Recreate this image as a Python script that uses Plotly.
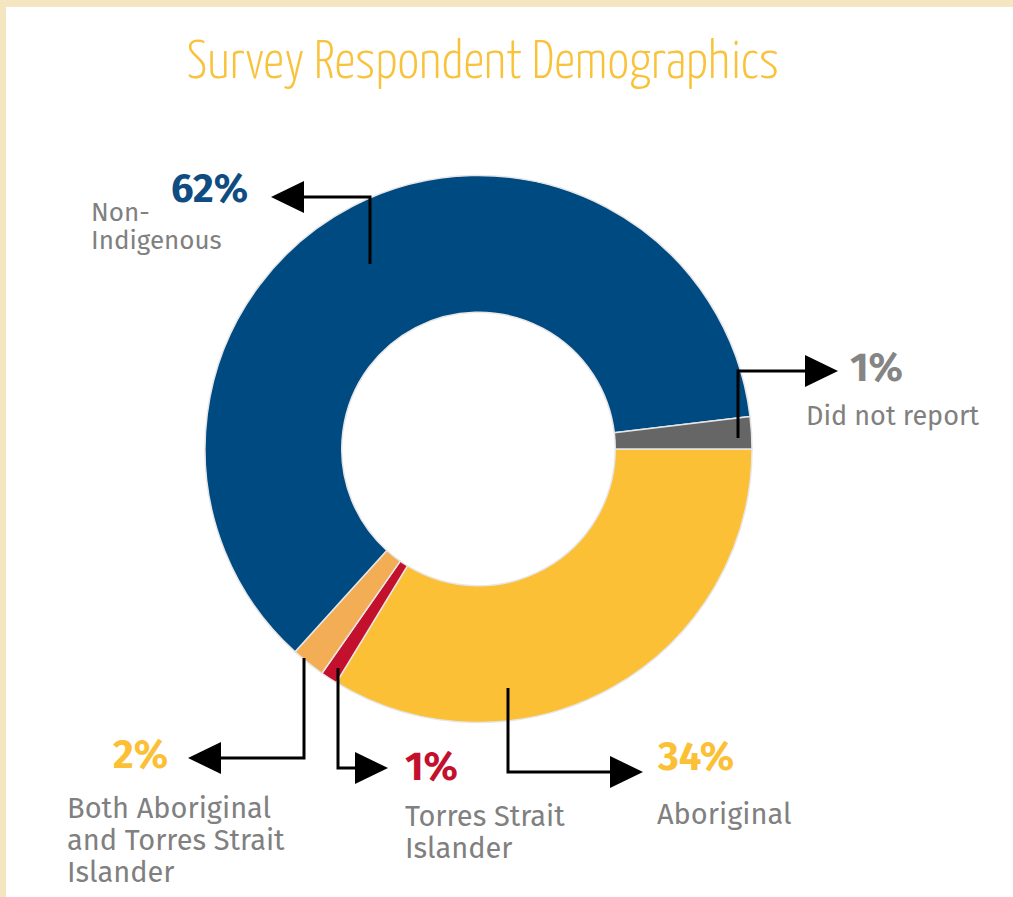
import plotly.graph_objects as go

# ---- data ----
categories = ["Aboriginal", "Torres Strait Islander", "Both Aboriginal and Torres Strait Islander",
              "Non-Indigenous", "Did not report"]
values = [33.7, 1.0, 2.0, 61.4, 1.9]          # slice sizes as drawn
pct_labels = ["34%", "1%", "2%", "62%", "1%"]   # printed labels
label_lines = [["Aboriginal"], ["Torres Strait", "Islander"],
               ["Both Aboriginal", "and Torres Strait", "Islander"],
               ["Non-", "Indigenous"], ["Did not report"]]
colors = ["#fcc036", "#c3102d", "#f2ad55", "#004a82", "#666666"]
pct_colors = ["#fcc036", "#c3102d", "#fcc036", "#0e4c82", "#858585"]

W, H = 1013, 897

def px(x):
    return x / W

def py(y):
    return 1 - y / H

fig = go.Figure()
cx, cy, r = 478.5, 449, 273.5
fig.add_trace(go.Pie(
    labels=categories, values=values, sort=False, direction="clockwise", rotation=90,
    hole=0.5, textinfo="none", hoverinfo="label+percent",
    marker=dict(colors=colors, line=dict(color="#e6e6e6", width=1.5)),
    domain=dict(x=[px(cx - r), px(cx + r)], y=[py(cy + r), py(cy - r)]),
    showlegend=False,
))

shapes = []
# cream frame (top and left band)
shapes.append(dict(type="rect", xref="paper", yref="paper", x0=px(6), x1=1, y0=0, y1=py(7),
                   fillcolor="white", line=dict(width=0), layer="below"))

# arrows: (path points in px, tip, direction)
arrows = [
    ([(370, 264), (370, 197), (303, 197)], (271, 197), "left"),
    ([(738, 438), (738, 371), (805, 371)], (838, 371), "right"),
    ([(304, 658), (304, 758), (221, 758)], (188, 758), "left"),
    ([(338, 668), (338, 768), (355, 768)], (388, 768), "right"),
    ([(508, 688), (508, 772), (610, 772)], (643, 772), "right"),
]
L, h = 33, 16
for pts, tip, d in arrows:
    path = "M " + " L ".join(f"{px(x)},{py(y)}" for x, y in pts)
    shapes.append(dict(type="path", xref="paper", yref="paper", path=path,
                       line=dict(color="black", width=3)))
    tx, ty = tip
    bx = tx + L if d == "left" else tx - L
    tri = f"M {px(tx)},{py(ty)} L {px(bx)},{py(ty - h)} L {px(bx)},{py(ty + h)} Z"
    shapes.append(dict(type="path", xref="paper", yref="paper", path=tri,
                       fillcolor="black", line=dict(color="black", width=0)))

annotations = []
pct_font = 40
font_fam = "Fira Sans, Open Sans, Noto Sans, sans-serif"
# percentage labels: (left x, baseline y)
pct_pos = [(655, 771), (403, 781), (111, 769), (169, 203), (848, 382)]
for i, (x, yb) in enumerate(pct_pos):
    annotations.append(dict(xref="paper", yref="paper", x=px(x), y=py(yb - 0.36 * pct_font),
                            xanchor="left", yanchor="middle", showarrow=False,
                            text=f"<b>{pct_labels[i]}</b>",
                            font=dict(size=pct_font, color=pct_colors[i], family=font_fam)))
# category labels: (left x, first baseline y, line spacing, font size)
lab_pos = [(655, 825, 32, 29), (403, 827, 32, 29), (65, 819, 32, 29),
           (89, 222, 28, 26), (804, 426, 30, 27)]
for i, (x, yb, sp, fs) in enumerate(lab_pos):
    for k, line in enumerate(label_lines[i]):
        yl = yb + k * sp - 0.36 * fs
        annotations.append(dict(xref="paper", yref="paper", x=px(x), y=py(yl),
                                xanchor="left", yanchor="middle", align="left", showarrow=False,
                                text=line,
                                font=dict(size=fs, color="#808080", family=font_fam)))

fig.update_layout(
    width=W, height=H, margin=dict(l=0, r=0, t=0, b=0),
    paper_bgcolor="#f3e6c1", plot_bgcolor="white",
    title=dict(text="Survey Respondent Demographics", x=px(483), xanchor="center",
               y=py(59), yanchor="middle",
               font=dict(size=54, color="#f8c23a", weight=300,
                         family="Yanone Kaffeesatz, Fira Sans Extra Condensed, Fira Sans Condensed, "
                                "Roboto Condensed, Liberation Sans Narrow, Roboto, sans-serif")),
    shapes=shapes, annotations=annotations,
)
fig.write_html("out.html", config=dict(displayModeBar=False),
               post_script="document.body.style.margin='0';document.body.style.backgroundColor='#f3e6c1';")
